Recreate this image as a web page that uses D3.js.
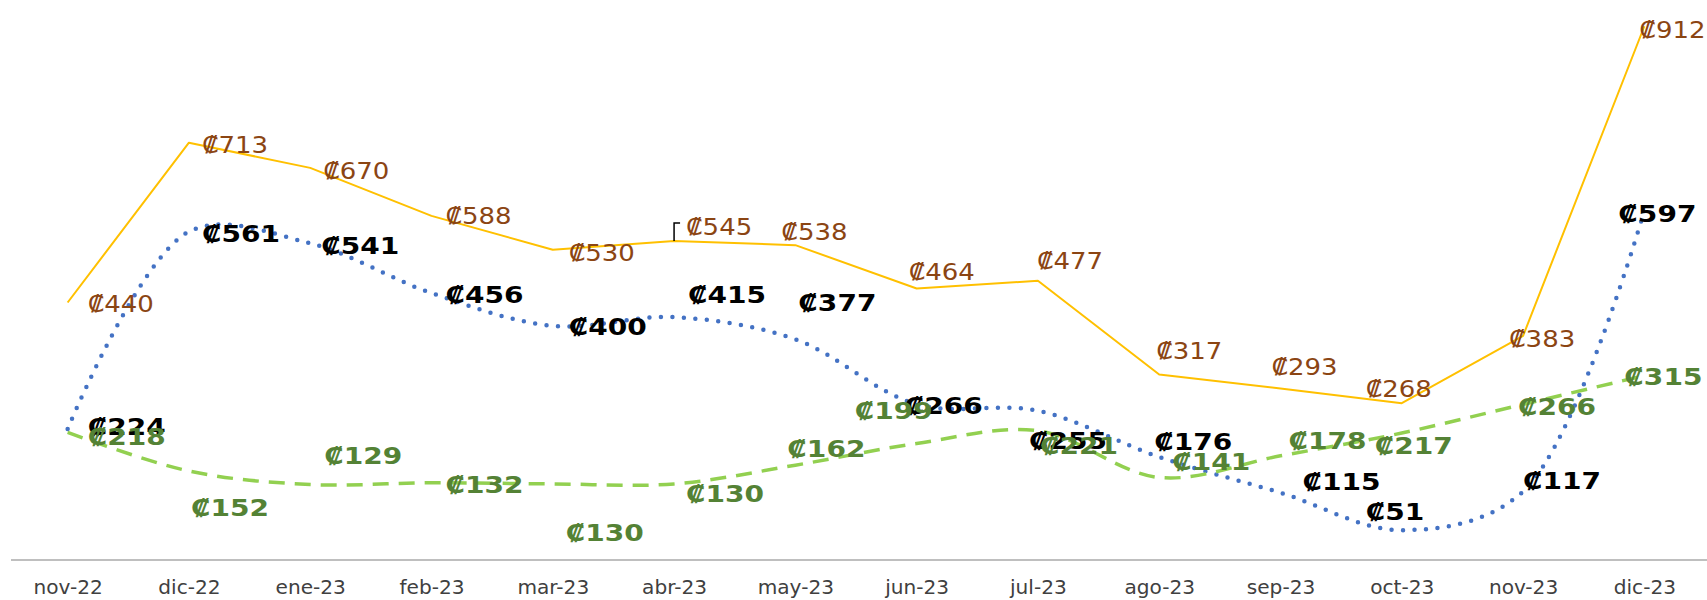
<!DOCTYPE html>
<html>
<head>
<meta charset="utf-8">
<script src="https://cdn.jsdelivr.net/npm/d3@7"></script>
<style>
  body { margin: 0; background: #fff; }
  svg { display: block; }
</style>
</head>
<body>
<svg id="chart"></svg>
<script>
const width = 1707; // pixels
const height = 600; // pixels

const months = ["nov-22", "dic-22", "ene-23", "feb-23", "mar-23", "abr-23", "may-23",
  "jun-23", "jul-23", "ago-23", "sep-23", "oct-23", "nov-23", "dic-23"];

// three series, values in colones
const serieNaranja = [440, 713, 670, 588, 530, 545, 538, 464, 477, 317, 293, 268, 383, 912];
const serieAzul = [224, 561, 541, 456, 400, 415, 377, 266, 255, 176, 115, 51, 117, 597];
const serieVerde = [218, 152, 129, 132, 130, 130, 162, 199, 221, 141, 178, 217, 266, 315];

// hand placed label nudges (dx, dy from the point), like the excel original
const nudgeNaranja = [[20, 1], [13, 2], [13, 3], [14, 0], [16, 3], [12, -14], [-14, -13],
  [-8, -17], [-1, -20], [-3, -24], [-9, -22], [-36, -14], [-14, 3], [-5, 3]];
const nudgeAzul = [[20, -2], [13, 2], [11, 2], [14, 2], [16, 1], [14, -22], [3, -37],
  [-12, 1], [-9, 30], [-5, -15], [22, -11], [-36, -18], [0, -11], [-26, 3]];
const nudgeVerde = [[20, 4], [2, 37], [14, -29], [14, 2], [13, 49], [12, 10], [-8, -16],
  [-62, -33], [2, 15], [13, -16], [8, -15], [-27, 13], [-5, 2], [-20, 1]];

const svg = d3.select("#chart")
  .attr("width", width)
  .attr("height", height)
  .attr("viewBox", [0, 0, width, height]);

const x = d3.scalePoint(months, [7, 1705]).padding(0.5);
const y = d3.scaleLinear([0, 950], [560, 4]);

/**
 * Axis at the bottom, only the base line and month names.
 */
svg.append("g")
  .attr("transform", `translate(0,560)`)
  .call(d3.axisBottom(x).tickSize(0).tickSizeOuter(0).tickPadding(21))
  .call(g => g.select(".domain")
    .attr("d", "M11,0H1707")
    .attr("stroke", "#bfbfbf")
    .attr("stroke-width", 2))
  .call(g => g.selectAll("text")
    .attr("fill", "#404040")
    .attr("font-family", "DejaVu Sans")
    .attr("font-size", 19)
    .attr("transform", "scale(1.06,1)"));

const series = [
  {values: serieNaranja, nudge: nudgeNaranja, line: "#FFC000", text: "#8B4513", weight: "normal",
    stretch: 1.13, width: 2, dash: null, cap: "butt", curve: d3.curveLinear},
  {values: serieAzul, nudge: nudgeAzul, line: "#4472C4", text: "#000000", weight: "bold",
    stretch: 1.22, width: 4.5, dash: "0 11.5", cap: "round", curve: d3.curveCatmullRom},
  {values: serieVerde, nudge: nudgeVerde, line: "#92D050", text: "#548235", weight: "bold",
    stretch: 1.22, width: 3.5, dash: "16 10", cap: "butt", curve: d3.curveCatmullRom}
];

/**
 * Lines.
 */
series.forEach(s => {
  const line = d3.line()
    .x((d, i) => x(months[i]))
    .y(d => y(d))
    .curve(s.curve);
  svg.append("path")
    .datum(s.values)
    .attr("fill", "none")
    .attr("stroke", s.line)
    .attr("stroke-width", s.width)
    .attr("stroke-dasharray", s.dash)
    .attr("stroke-linecap", s.cap)
    .attr("stroke-linejoin", "round")
    .attr("d", line);
});

// small leader line of the abr-23 orange label
const abr = months.indexOf("abr-23");
svg.append("path")
  .attr("fill", "none")
  .attr("stroke", "#000")
  .attr("stroke-width", 1.5)
  .attr("d", d3.line()([
    [x(months[abr]), y(serieNaranja[abr])],
    [x(months[abr]), y(serieNaranja[abr]) - 18],
    [x(months[abr]) + 6, y(serieNaranja[abr]) - 18]
  ]));

/**
 * Data labels.
 */
series.forEach(s => {
  svg.append("g")
    .attr("font-family", "DejaVu Sans")
    .attr("font-size", 23)
    .attr("font-weight", s.weight)
    .attr("fill", s.text)
    .selectAll("text")
    .data(s.values)
    .join("text")
    .attr("transform", (d, i) =>
      `translate(${x(months[i]) + s.nudge[i][0]},${y(d) + s.nudge[i][1]}) scale(${s.stretch},1)`)
    .attr("dy", "0.36em")
    .text(d => "₡" + d);
});
</script>
</body>
</html>
